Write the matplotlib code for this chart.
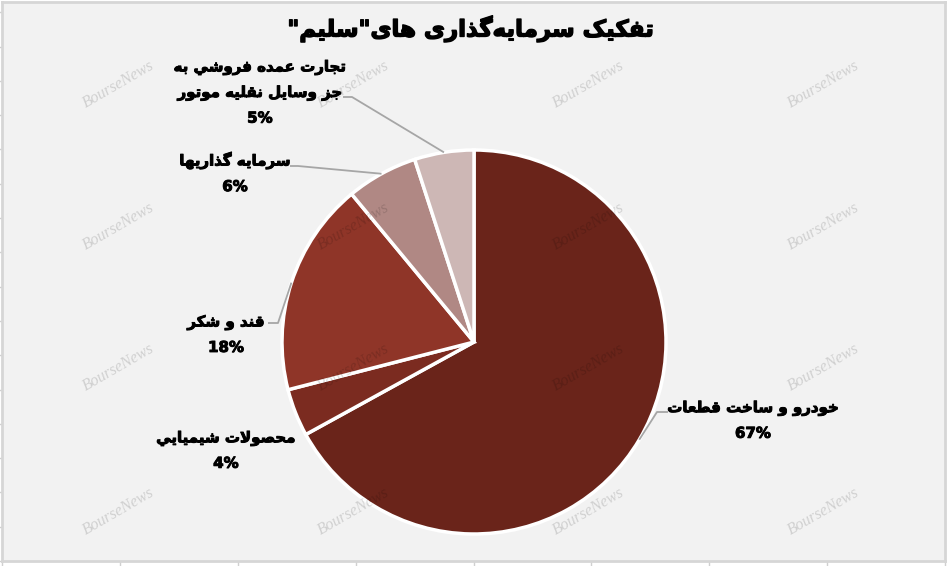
import matplotlib.pyplot as plt
import matplotlib.patheffects as pe
import numpy as np

# Persian letter forms: isolated, final, initial, medial
FORMS = {
    'ا': ('\uFE8D', '\uFE8E', None, None),
    'ب': ('\uFE8F', '\uFE90', '\uFE91', '\uFE92'),
    'ت': ('\uFE95', '\uFE96', '\uFE97', '\uFE98'),
    'ج': ('\uFE9D', '\uFE9E', '\uFE9F', '\uFEA0'),
    'ح': ('\uFEA1', '\uFEA2', '\uFEA3', '\uFEA4'),
    'خ': ('\uFEA5', '\uFEA6', '\uFEA7', '\uFEA8'),
    'د': ('\uFEA9', '\uFEAA', None, None),
    'ذ': ('\uFEAB', '\uFEAC', None, None),
    'ر': ('\uFEAD', '\uFEAE', None, None),
    'ز': ('\uFEAF', '\uFEB0', None, None),
    'س': ('\uFEB1', '\uFEB2', '\uFEB3', '\uFEB4'),
    'ش': ('\uFEB5', '\uFEB6', '\uFEB7', '\uFEB8'),
    'ص': ('\uFEB9', '\uFEBA', '\uFEBB', '\uFEBC'),
    'ط': ('\uFEC1', '\uFEC2', '\uFEC3', '\uFEC4'),
    'ع': ('\uFEC9', '\uFECA', '\uFECB', '\uFECC'),
    'ف': ('\uFED1', '\uFED2', '\uFED3', '\uFED4'),
    'ق': ('\uFED5', '\uFED6', '\uFED7', '\uFED8'),
    'ل': ('\uFEDD', '\uFEDE', '\uFEDF', '\uFEE0'),
    'م': ('\uFEE1', '\uFEE2', '\uFEE3', '\uFEE4'),
    'ن': ('\uFEE5', '\uFEE6', '\uFEE7', '\uFEE8'),
    'ه': ('\uFEE9', '\uFEEA', '\uFEEB', '\uFEEC'),
    'و': ('\uFEED', '\uFEEE', None, None),
    'ي': ('\uFEF1', '\uFEF2', '\uFEF3', '\uFEF4'),
    'ک': ('\uFB8E', '\uFB8F', '\uFB90', '\uFB91'),
    'گ': ('\uFB92', '\uFB93', '\uFB94', '\uFB95'),
    'ی': ('\uFBFC', '\uFBFD', '\uFBFE', '\uFBFF'),
}


def shape_line(text):
    if not any(c in FORMS for c in text):
        return text
    out = []
    n = len(text)
    i = 0
    while i < n:
        c = text[i]
        if c not in FORMS:
            if c != '\u200c':
                out.append(c)
            i += 1
            continue
        prev = text[i - 1] if i > 0 else None
        nxt = text[i + 1] if i + 1 < n else None
        jp = prev in FORMS and FORMS[prev][2] is not None
        if c == 'ل' and nxt == 'ا':
            out.append('\uFEFC' if jp else '\uFEFB')
            i += 2
            continue
        jn = FORMS[c][2] is not None and nxt in FORMS
        iso, fin, ini, med = FORMS[c]
        if jp and jn:
            out.append(med)
        elif jp:
            out.append(fin)
        elif jn:
            out.append(ini)
        else:
            out.append(iso)
        i += 1
    return ''.join(reversed(out))


def shape(text):
    return '\n'.join(shape_line(l) for l in text.split('\n'))


# data
title = 'تفکیک سرمایه\u200cگذاری های"سلیم"'
categories = ['خودرو و ساخت قطعات', 'محصولات شيميايي', 'قند و شکر',
              'سرمايه گذاريها', 'تجارت عمده فروشي به\nجز وسايل نقليه موتور']
shares = [67, 4, 18, 6, 5]
colors = ['#6a241a', '#7b2b20', '#8f3528', '#b08884', '#cdb7b5']

W, H = 948, 566
fig = plt.figure(figsize=(W / 100, H / 100), dpi=100, facecolor='white')

# background frame with ticks
ax_bg = fig.add_axes([2 / W, 5 / H, 943 / W, 559 / H])
ax_bg.set_facecolor('#f2f2f2')
ax_bg.set_xlim(0, 8)
ax_bg.set_ylim(0, 16.3)
ax_bg.set_xticks(range(9))
ax_bg.set_yticks(range(17))
ax_bg.tick_params(direction='out', length=4, color='#d0d0d0', width=1,
                  labelleft=False, labelbottom=False)
for s in ax_bg.spines.values():
    s.set_color('#d6d6d6')
    s.set_linewidth(2)

# pie
cx, cy, r = 474, 342, 192
ax_pie = fig.add_axes([(cx - r) / W, (H - cy - r) / H, 2 * r / W, 2 * r / H])
wedges, _ = ax_pie.pie(shares, colors=colors, startangle=90, counterclock=False,
                       radius=1, wedgeprops=dict(edgecolor='white', linewidth=2.5))
ax_pie.set_xlim(-1, 1)
ax_pie.set_ylim(-1, 1)
ax_pie.axis('off')

# overlay in pixel coordinates
ax_t = fig.add_axes([0, 0, 1, 1])
ax_t.set_xlim(0, W)
ax_t.set_ylim(H, 0)
ax_t.axis('off')
ax_t.patch.set_alpha(0)


def edge_px(w):
    a = np.deg2rad((w.theta1 + w.theta2) / 2)
    return cx + r * np.cos(a), cy - r * np.sin(a)


font = ['DejaVu Sans']
heavy = [pe.withStroke(linewidth=1.0, foreground='black')]
ax_t.text(470, 29, shape(title), ha='center', va='center', fontsize=16.5,
          fontweight='bold', family=font, path_effects=heavy)

label_pos = [(753, 421), (226, 451), (226, 335), (235, 173), (260, 93)]
leader_start = [(668, 412), None, (268, 323), (290, 166), (343, 97)]
leader_knee = [(657, 412), None, (278, 323), (298, 166), (352, 97)]

for w, cat, v, (lx, ly), s0, k in zip(wedges, categories, shares, label_pos,
                                      leader_start, leader_knee):
    ax_t.text(lx, ly, shape(cat) + '\n' + f'{v}%', ha='center', va='center',
              multialignment='center', fontsize=10.8, fontweight='bold',
              family=font, linespacing=1.8,
              path_effects=[pe.withStroke(linewidth=0.7, foreground='black')])
    if s0 is not None:
        ex, ey = edge_px(w)
        ax_t.plot([s0[0], k[0], ex], [s0[1], k[1], ey], color='#a6a6a6', lw=1.3,
                  solid_capstyle='butt')

# watermark
for wy in [85, 227, 368, 512]:
    for wx in [118, 353, 588, 823]:
        ax_t.text(wx, wy, 'BourseNews', rotation=30, ha='center', va='center',
                  fontsize=11.5, style='italic', family='Liberation Serif',
                  color='black', alpha=0.14)

fig.savefig('out.png', dpi=100, facecolor=fig.get_facecolor())
